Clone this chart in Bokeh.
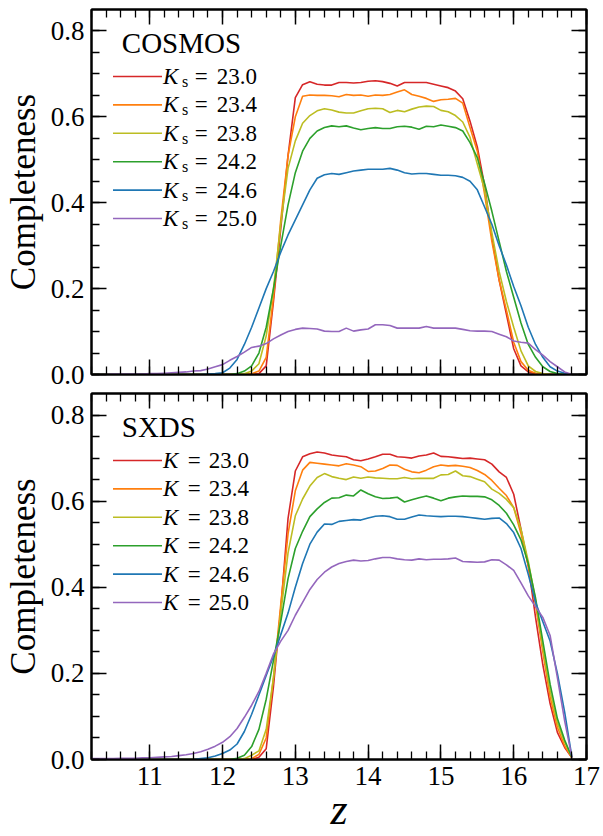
from bokeh.plotting import figure
from bokeh.layouts import column
from bokeh.models import (Range1d, LinearAxis, SingleIntervalTicker, PrintfTickFormatter,
                          CustomJSTickFormatter)
from bokeh.core.properties import value
from bokeh.embed import file_html
from bokeh.resources import INLINE

# ---------------- data ----------------
Z = [10.2, 10.3, 10.4, 10.5, 10.6, 10.7, 10.8, 10.9, 11.0, 11.1,
     11.2, 11.3, 11.4, 11.5, 11.6, 11.7, 11.8, 11.9, 12.0, 12.1,
     12.2, 12.3, 12.4, 12.5, 12.6, 12.7, 12.8, 12.9, 13.0, 13.1,
     13.2, 13.3, 13.4, 13.5, 13.6, 13.7, 13.8, 13.9, 14.0, 14.1,
     14.2, 14.3, 14.4, 14.5, 14.6, 14.7, 14.8, 14.9, 15.0, 15.1,
     15.2, 15.3, 15.4, 15.5, 15.6, 15.7, 15.8, 15.9, 16.0, 16.1,
     16.2, 16.3, 16.4, 16.5, 16.6, 16.7, 16.8]

MAGS = ["23.0", "23.4", "23.8", "24.2", "24.6", "25.0"]
COLORS = ["#d62728", "#ff7f0e", "#bcbd22", "#2ca02c", "#1f77b4", "#9467bd"]

# COSMOS (top panel)
cosmos_230 = [0]*23 + [0.002, 0.02, 0.17, 0.34, 0.51, 0.645, 0.675, 0.682, 0.676, 0.674,
                      0.674, 0.68, 0.68, 0.679, 0.68, 0.683, 0.684, 0.682, 0.678, 0.672,
                      0.68, 0.68, 0.68, 0.68, 0.676, 0.672, 0.668, 0.66, 0.642, 0.59,
                      0.53, 0.44, 0.32, 0.22, 0.14, 0.06, 0.02, 0.006, 0.002, 0,
                      0, 0, 0, 0]
cosmos_234 = [0]*22 + [0.002, 0.008, 0.04, 0.18, 0.36, 0.51, 0.60, 0.648, 0.651, 0.65,
                      0.65, 0.649, 0.647, 0.652, 0.65, 0.651, 0.648, 0.651, 0.65, 0.652,
                      0.658, 0.663, 0.652, 0.648, 0.643, 0.636, 0.64, 0.641, 0.643, 0.632,
                      0.575, 0.52, 0.42, 0.31, 0.22, 0.15, 0.075, 0.03, 0.01, 0.003,
                      0, 0, 0, 0, 0]
cosmos_238 = [0]*21 + [0.002, 0.008, 0.025, 0.09, 0.20, 0.35, 0.48, 0.544, 0.585, 0.603,
                      0.614, 0.619, 0.616, 0.611, 0.609, 0.609, 0.614, 0.619, 0.62, 0.619,
                      0.61, 0.615, 0.612, 0.618, 0.623, 0.625, 0.624, 0.615, 0.612, 0.603,
                      0.588, 0.552, 0.49, 0.43, 0.33, 0.24, 0.17, 0.11, 0.055, 0.02,
                      0.007, 0.002, 0, 0, 0, 0]
cosmos_242 = [0]*20 + [0.002, 0.008, 0.02, 0.05, 0.11, 0.20, 0.30, 0.395, 0.47, 0.52,
                      0.55, 0.567, 0.575, 0.579, 0.577, 0.579, 0.574, 0.57, 0.573, 0.575,
                      0.573, 0.573, 0.577, 0.578, 0.576, 0.571, 0.578, 0.577, 0.581, 0.578,
                      0.575, 0.567, 0.54, 0.505, 0.445, 0.38, 0.31, 0.24, 0.18, 0.12,
                      0.07, 0.04, 0.018, 0.007, 0.002, 0, 0]
cosmos_246 = [0]*16 + [0.001, 0.002, 0.004, 0.015, 0.035, 0.07, 0.11, 0.155, 0.20, 0.24,
                      0.285, 0.325, 0.36, 0.395, 0.43, 0.457, 0.465, 0.468, 0.466, 0.47,
                      0.474, 0.476, 0.478, 0.478, 0.478, 0.48, 0.476, 0.47, 0.467, 0.468,
                      0.468, 0.466, 0.464, 0.464, 0.463, 0.459, 0.45, 0.43, 0.39, 0.35,
                      0.30, 0.255, 0.205, 0.16, 0.11, 0.07, 0.04, 0.018, 0.008, 0.003,
                      0]
cosmos_250 = [0, 0, 0, 0.001, 0.001, 0.001, 0.001, 0.001, 0.002, 0.002,
              0.003, 0.004, 0.005, 0.006, 0.008, 0.009, 0.013, 0.018, 0.023, 0.033,
              0.042, 0.052, 0.063, 0.066, 0.072, 0.083, 0.092, 0.100, 0.105, 0.108,
              0.107, 0.106, 0.101, 0.100, 0.100, 0.108, 0.101, 0.104, 0.106, 0.116,
              0.116, 0.114, 0.108, 0.108, 0.108, 0.108, 0.112, 0.108, 0.108, 0.108,
              0.108, 0.105, 0.102, 0.101, 0.101, 0.100, 0.094, 0.088, 0.078, 0.075,
              0.073, 0.058, 0.045, 0.03, 0.018, 0.006, 0.0]

# SXDS (bottom panel)
sxds_230 = [0]*23 + [0.005, 0.025, 0.17, 0.35, 0.56, 0.67, 0.703, 0.71, 0.714, 0.712,
                    0.707, 0.705, 0.703, 0.696, 0.694, 0.698, 0.703, 0.709, 0.709, 0.703,
                    0.702, 0.70, 0.705, 0.707, 0.712, 0.704, 0.703, 0.701, 0.699, 0.70,
                    0.698, 0.696, 0.686, 0.668, 0.655, 0.616, 0.535, 0.45, 0.33, 0.22,
                    0.13, 0.063, 0.028, 0.004]
sxds_234 = [0]*22 + [0.002, 0.012, 0.05, 0.19, 0.36, 0.524, 0.624, 0.672, 0.69, 0.688,
                    0.686, 0.684, 0.682, 0.687, 0.684, 0.68, 0.669, 0.67, 0.676, 0.684,
                    0.683, 0.674, 0.668, 0.666, 0.672, 0.68, 0.684, 0.682, 0.683, 0.681,
                    0.678, 0.671, 0.662, 0.648, 0.63, 0.613, 0.585, 0.525, 0.45, 0.36,
                    0.25, 0.145, 0.075, 0.032, 0.004]
sxds_238 = [0]*21 + [0.002, 0.01, 0.02, 0.07, 0.19, 0.34, 0.48, 0.566, 0.605, 0.635,
                    0.655, 0.664, 0.657, 0.653, 0.65, 0.656, 0.653, 0.656, 0.654, 0.653,
                    0.652, 0.652, 0.655, 0.652, 0.653, 0.653, 0.653, 0.661, 0.662, 0.67,
                    0.659, 0.657, 0.651, 0.645, 0.628, 0.618, 0.604, 0.585, 0.535, 0.46,
                    0.37, 0.26, 0.16, 0.085, 0.04, 0.005]
sxds_242 = [0]*20 + [0.003, 0.01, 0.03, 0.07, 0.14, 0.23, 0.32, 0.42, 0.49, 0.53,
                    0.564, 0.582, 0.597, 0.607, 0.608, 0.614, 0.612, 0.626, 0.617, 0.61,
                    0.606, 0.607, 0.609, 0.598, 0.603, 0.608, 0.612, 0.607, 0.601, 0.607,
                    0.61, 0.612, 0.611, 0.611, 0.61, 0.603, 0.59, 0.572, 0.545, 0.51,
                    0.455, 0.375, 0.275, 0.175, 0.095, 0.045, 0.005]
sxds_246 = [0]*15 + [0.002, 0.004, 0.008, 0.014, 0.022, 0.036, 0.065, 0.105, 0.15, 0.195,
                    0.24, 0.29, 0.34, 0.40, 0.455, 0.50, 0.528, 0.547, 0.546, 0.553,
                    0.555, 0.557, 0.556, 0.561, 0.565, 0.566, 0.564, 0.558, 0.558, 0.563,
                    0.568, 0.566, 0.565, 0.564, 0.565, 0.565, 0.564, 0.562, 0.56, 0.558,
                    0.56, 0.561, 0.548, 0.527, 0.49, 0.43, 0.365, 0.32, 0.275, 0.20,
                    0.11, 0.005]
sxds_250 = [0.002, 0.002, 0.002, 0.002, 0.003, 0.003, 0.003, 0.004, 0.004, 0.005,
            0.006, 0.007, 0.009, 0.011, 0.014, 0.018, 0.024, 0.031, 0.04, 0.053,
            0.072, 0.098, 0.126, 0.158, 0.20, 0.245, 0.275, 0.30, 0.335, 0.365,
            0.395, 0.418, 0.435, 0.447, 0.455, 0.46, 0.463, 0.461, 0.462, 0.466,
            0.469, 0.469, 0.466, 0.464, 0.463, 0.466, 0.464, 0.465, 0.465, 0.466,
            0.468, 0.46, 0.459, 0.458, 0.459, 0.464, 0.463, 0.452, 0.439, 0.41,
            0.38, 0.355, 0.33, 0.288, 0.19, 0.09, 0.005]

COSMOS = [cosmos_230, cosmos_234, cosmos_238, cosmos_242, cosmos_246, cosmos_250]
SXDS = [sxds_230, sxds_234, sxds_238, sxds_242, sxds_246, sxds_250]

# ---------------- styling ----------------
FONT = "'Liberation Serif', 'Times New Roman', serif"
FW = 495


def style_axis(ax, show_labels, xaxis):
    ax.ticker = (SingleIntervalTicker(interval=1, num_minor_ticks=5) if xaxis
                 else SingleIntervalTicker(interval=0.2, num_minor_ticks=4))
    ax.major_tick_in = 15
    ax.major_tick_out = 0
    ax.minor_tick_in = 8
    ax.minor_tick_out = 0
    ax.major_tick_line_width = 1.5
    ax.minor_tick_line_width = 1.3
    ax.major_tick_line_color = "black"
    ax.minor_tick_line_color = "black"
    ax.axis_line_width = 2
    ax.axis_line_color = "black"
    ax.major_label_text_font = FONT
    ax.major_label_text_color = "black"
    if show_labels:
        if not xaxis:
            ax.formatter = PrintfTickFormatter(format="%.1f")
        ax.major_label_text_font_size = "27px"
        ax.major_label_standoff = 7
    else:
        ax.formatter = CustomJSTickFormatter(code="return ''")
        ax.major_label_text_font_size = "0px"
        ax.major_label_standoff = 0


def make_panel(name, series, subscript, frame_h, min_top, min_bottom, show_x):
    p = figure(frame_width=FW, frame_height=frame_h,
               x_range=Range1d(10.2, 17), y_range=Range1d(0, 0.85),
               min_border_left=84, min_border_right=14,
               min_border_top=min_top, min_border_bottom=min_bottom,
               output_backend="svg", toolbar_location=None)
    p.grid.visible = False
    p.outline_line_color = "black"
    p.outline_line_width = 2
    p.background_fill_color = "white"
    p.border_fill_color = "white"

    style_axis(p.xaxis[0], show_x, True)
    style_axis(p.yaxis[0], True, False)
    ya = p.yaxis[0]
    ya.axis_label = "Completeness"
    ya.axis_label_text_font = FONT
    ya.axis_label_text_font_style = "normal"
    ya.axis_label_text_font_size = "35px"
    ya.axis_label_text_color = "black"
    ya.axis_label_standoff = 5
    if show_x:
        xa = p.xaxis[0]
        xa.axis_label = "z"
        xa.axis_label_text_font = FONT
        xa.axis_label_text_font_style = "italic"
        xa.axis_label_text_font_size = "44px"
        xa.axis_label_text_color = "black"
        xa.axis_label_standoff = -3

    top = LinearAxis()
    style_axis(top, False, True)
    p.add_layout(top, "above")
    right = LinearAxis()
    style_axis(right, False, False)
    p.add_layout(right, "right")

    for ys, c in zip(series, COLORS):
        p.line(Z, ys, line_color=c, line_width=1.6)

    # legend drawn in frame pixel coordinates (y measured up from the frame bottom)
    p.extra_x_ranges = {"px": Range1d(0, FW)}
    p.extra_y_ranges = {"px": Range1d(0, frame_h)}
    row0, dy = 67.0, 28.4
    rows = [frame_h - (row0 + dy * i) for i in range(len(MAGS))]
    common = dict(text_font=value(FONT), text_baseline="middle", text_align="left",
                  text_color="black", x_range_name="px", y_range_name="px")
    p.segment(x0=[21.5] * 6, x1=[70.5] * 6, y0=rows, y1=rows,
              line_color=COLORS, line_width=1.6,
              x_range_name="px", y_range_name="px")
    p.text(x=[30.3], y=[frame_h - 33.5], text=[name], text_font_size="29px", **common)
    p.text(x=[71.5] * 6, y=rows, text=["K"] * 6, text_font_style="italic",
           text_font_size="23px", **common)
    if subscript:
        p.text(x=[90.5] * 6, y=[r - 5 for r in rows], text=["s"] * 6,
               text_font_size="16px", **common)
        eq_x, num_x = 103.3, 125.3
    else:
        eq_x, num_x = 96.3, 117.3
    p.text(x=[eq_x] * 6, y=rows, text=["="] * 6, text_font_size="23px", **common)
    p.text(x=[num_x] * 6, y=rows, text=MAGS, text_font_size="23px", **common)
    return p


p1 = make_panel("COSMOS", COSMOS, True, 365, 9, 16, False)
p2 = make_panel("SXDS", SXDS, False, 366, 3, 76, True)

layout = column(p1, p2, spacing=0)
open("out.html", "w").write(file_html(layout, INLINE))
